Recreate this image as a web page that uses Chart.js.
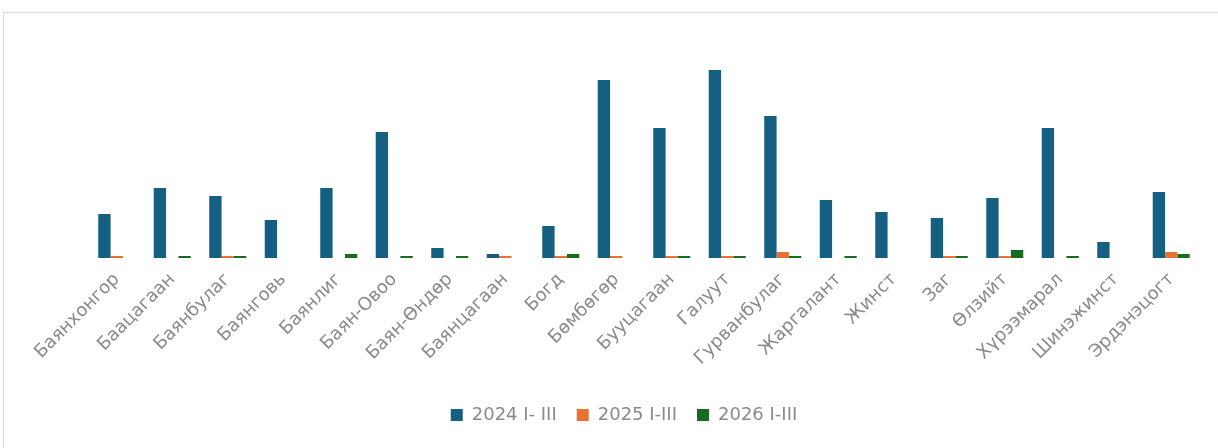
<!DOCTYPE html>
<html>
<head>
<meta charset="utf-8">
<script src="https://cdn.jsdelivr.net/npm/chart.js@4/dist/chart.umd.min.js"></script>
<style>
html,body{margin:0;padding:0;background:#fff;overflow:hidden;}
#wrap{position:absolute;left:0;top:0;width:1218px;height:448px;}
#frame{position:absolute;left:3px;top:12px;width:1300px;height:500px;border:1px solid #d9d9d9;box-sizing:border-box;}
canvas{position:absolute;left:0;top:0;}
</style>
</head>
<body>
<div id="wrap">
<div id="frame"></div>
<canvas id="c" width="1218" height="448"></canvas>
</div>
<script>
const categories = ["Баянхонгор","Баацагаан","Баянбулаг","Баянговь","Баянлиг","Баян-Овоо","Баян-Өндөр","Баянцагаан","Богд","Бөмбөгөр","Бууцагаан","Галуут","Гурванбулаг","Жаргалант","Жинст","Заг","Өлзийт","Хүрээмарал","Шинэжинст","Эрдэнэцогт"];
const seriesNames = ["2024 I- III","2025 I-III","2026 I-III"];
const values2024 = [22,35,31,19,35,63,5,2,16,89,65,94,71,29,23,20,30,65,8,33];
const values2025 = [1,0,1,0,0,0,0,1,1,1,1,1,3,0,0,1,1,0,0,3];
const values2026 = [0,1,1,0,2,1,1,0,2,0,1,1,1,1,0,1,4,1,0,2];
const colors = ["#156082","#E97132","#196B24"];

const ctx = document.getElementById('c');
new Chart(ctx, {
  type: 'bar',
  data: {
    labels: categories,
    datasets: [
      {label: seriesNames[0], data: values2024, backgroundColor: colors[0]},
      {label: seriesNames[1], data: values2025, backgroundColor: colors[1]},
      {label: seriesNames[2], data: values2026, backgroundColor: colors[2]}
    ]
  },
  options: {
    responsive: false,
    animation: false,
    devicePixelRatio: 1,
    categoryPercentage: 0.667,
    barPercentage: 1,
    layout: {padding: {left: 49, right: 19, top: 58, bottom: 14}},
    plugins: {
      legend: {
        position: 'bottom',
        labels: {
          boxWidth: 12, boxHeight: 12, padding: 20,
          color: '#8a8a8a',
          font: {family: 'DejaVu Sans', size: 18}
        }
      },
      tooltip: {enabled: false}
    },
    scales: {
      x: {
        grid: {display: false},
        border: {display: false},
        ticks: {
          autoSkip: false, minRotation: 45, maxRotation: 45,
          color: '#8a8a8a',
          font: {family: 'DejaVu Sans', size: 18}
        },
        afterFit: (s) => { s.height = 128; }
      },
      y: {
        min: 0, max: 100,
        grid: {display: false},
        border: {display: false},
        ticks: {display: false},
        afterFit: (s) => { s.width = 40; }
      }
    }
  }
});
</script>
</body>
</html>
